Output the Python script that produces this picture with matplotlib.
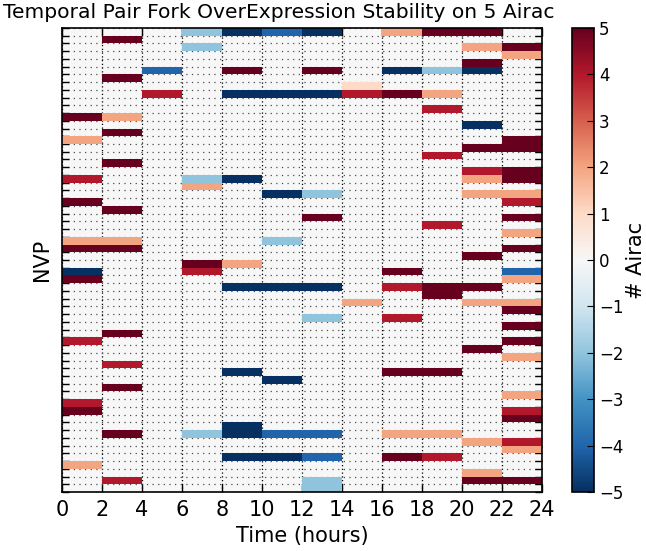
import matplotlib
matplotlib.use('Agg')
import matplotlib.pyplot as plt
import numpy as np

# time bins (hours) and number of NVP rows
time_edges = list(range(0, 26, 2))
n_rows = 60

# non-zero cells: row index (top = 0), time bin index, value (# Airac)
cell_rows = [
    11, 14, 19, 22, 27, 28, 31, 32, 40, 48, 49, 56,             # 0-2 h
    1, 6, 11, 13, 17, 23, 27, 28, 39, 43, 46, 52, 58,           # 2-4 h
    5, 8,                                                       # 4-6 h
    0, 2, 19, 20, 30, 31, 52,                                   # 6-8 h
    0, 5, 8, 19, 30, 33, 44, 51, 52, 55,                        # 8-10 h
    0, 8, 21, 27, 33, 45, 52, 55,                               # 10-12 h
    0, 5, 8, 21, 24, 33, 37, 52, 55, 58, 59,                    # 12-14 h
    7, 8, 35,                                                   # 14-16 h
    0, 5, 8, 31, 33, 37, 44, 52, 55,                            # 16-18 h
    0, 5, 8, 10, 16, 25, 33, 34, 44, 52, 55,                    # 18-20 h
    0, 2, 4, 5, 12, 15, 18, 19, 21, 29, 33, 35, 41, 53, 57, 58, # 20-22 h
    2, 3, 14, 15, 18, 19, 21, 22, 24, 26, 28, 31, 32, 35, 36,
    38, 40, 42, 47, 49, 50, 53, 54, 58,                         # 22-24 h
]
cell_cols = (
    [0] * 12 + [1] * 13 + [2] * 2 + [3] * 7 + [4] * 10 + [5] * 8
    + [6] * 11 + [7] * 3 + [8] * 9 + [9] * 11 + [10] * 16 + [11] * 24
)
cell_vals = [
    5, 2, 4, 5, 2, 5, -5, 5, 4, 4, 5, 2,
    5, 5, 2, 5, 5, 5, 2, 5, 5, 4, 5, 5, 4,
    -4, 4,
    -2, -2, -2, 2, 5, 4, -2,
    -5, 5, -5, -5, 2, -5, -5, -5, -5, -5,
    -4, -5, -5, -2, -5, -5, -4, -5,
    -5, 5, -5, -2, 5, -5, -2, -4, -4, -2, -2,
    1, 4, 2,
    2, -5, 5, 5, 4, 4, 5, 2, 5,
    5, -2, 2, 4, 4, 4, 5, 5, 5, 2, 4,
    5, 2, 5, -5, -5, 5, 4, 2, 2, 5, 5, 2, 5, 2, 2, 5,
    5, 2, 5, 5, 5, 5, 2, 4, 5, 2, 5, -4, 2, 2, 5,
    5, 5, 2, 2, 4, 5, 4, 2, 5,
]

grid = np.zeros((n_rows, len(time_edges) - 1))
for r, c, v in zip(cell_rows, cell_cols, cell_vals):
    grid[r, c] = v
grid = np.ma.masked_equal(grid, 0)

fig = plt.figure(figsize=(6.46, 5.51), dpi=100)
W, H = 646, 551
ax = fig.add_axes([62 / W, 1 - 492 / H, 480 / W, 464 / H])
cax = fig.add_axes([572 / W, 1 - 492 / H, 22 / W, 464 / H])

ax.set_facecolor('#f7f7f7')
mesh = ax.pcolormesh(time_edges, np.arange(n_rows + 1), grid,
                     cmap='RdBu_r', vmin=-5, vmax=5)
ax.set_xlim(0, 24)
ax.set_ylim(n_rows, 0)
ax.set_xticks(time_edges)
ax.set_yticks(np.arange(n_rows + 1))
ax.set_yticklabels([])
ax.tick_params(axis='both', direction='in', top=True, right=True,
               labelsize=15, width=1)
ax.tick_params(axis='y', length=5)
ax.tick_params(axis='x', length=6, pad=6)
ax.set_axisbelow(True)
ax.grid(True, axis='x', color='k', linestyle=(0, (1, 2)), linewidth=0.9)
ax.grid(True, axis='y', color='0.3', linestyle=(0, (1, 3.5)), linewidth=0.9)
for sp in ax.spines.values():
    sp.set_linewidth(1.2)

ax.set_xlabel('Time (hours)', fontsize=15)
ax.set_ylabel('NVP', fontsize=15)
fig.text(279 / W, 1 - 13 / H,
         'Temporal Pair Fork OverExpression Stability on 5 Airac',
         ha='center', va='center', fontsize=14.6)

cb = fig.colorbar(mesh, cax=cax)
cb.set_ticks(np.arange(-5, 6, 1))
cb.ax.tick_params(direction='in', labelsize=12, length=5)
cb.outline.set_linewidth(1.2)
cb.set_label('# Airac', fontsize=15, labelpad=2)

fig.savefig('out.png', dpi=100)
